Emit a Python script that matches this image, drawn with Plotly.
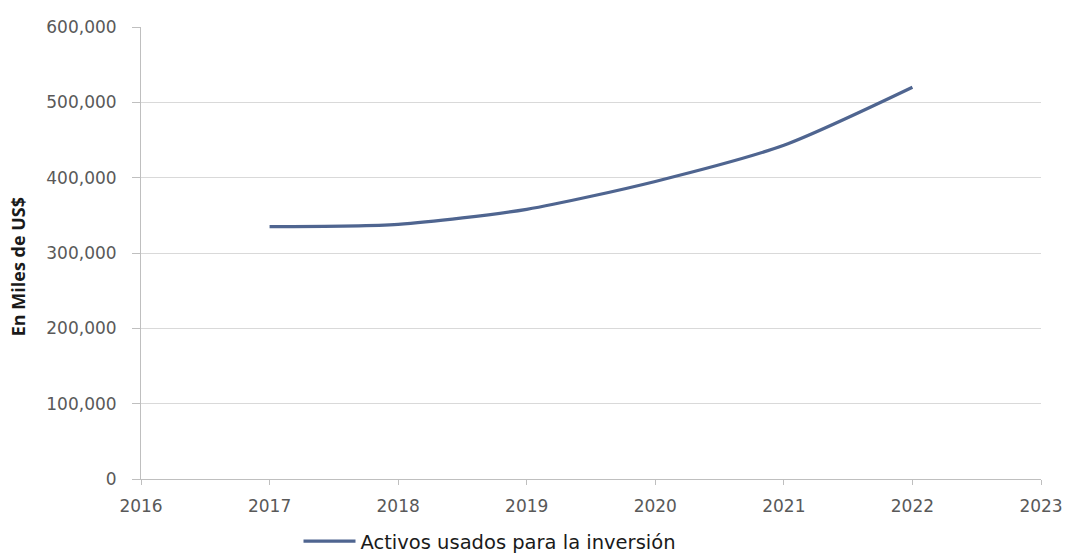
import plotly.graph_objects as go

years = [2017, 2018, 2019, 2020, 2021, 2022]
activos = [335000, 338000, 358000, 395000, 443000, 520000]
series_name = "Activos usados para la inversión"
y_title = "En Miles de US$"
x_ticks = [2016, 2017, 2018, 2019, 2020, 2021, 2022, 2023]
y_ticks = [0, 100000, 200000, 300000, 400000, 500000, 600000]

fig = go.Figure()
fig.add_trace(go.Scatter(
    x=years, y=activos, mode="lines", name=series_name,
    line=dict(color="#4f6590", width=3.2, shape="spline", smoothing=0.7),
))

font_family = "DejaVu Sans, Open Sans, sans-serif"
fig.update_layout(
    width=1067, height=557,
    margin=dict(l=141, r=26, t=27, b=78, autoexpand=False),
    paper_bgcolor="white", plot_bgcolor="white",
    showlegend=True,
    legend=dict(orientation="h", x=0.175, xanchor="left", y=-0.138, yanchor="middle",
                font=dict(family=font_family, size=19.5, color="#1a1a1a"),
                itemwidth=52, bgcolor="rgba(0,0,0,0)"),
    font=dict(family=font_family, color="#595959", size=17),
    annotations=[dict(
        text="<b>" + y_title + "</b>", textangle=-90,
        xref="paper", yref="paper", x=-0.137, y=0.47,
        xanchor="center", yanchor="middle", showarrow=False,
        font=dict(family="Open Sans, sans-serif", size=18, color="#1a1a1a"),
    )],
)
fig.update_xaxes(
    range=[2016, 2023], tickvals=x_ticks, ticktext=[str(v) for v in x_ticks],
    showgrid=False, showline=True, linecolor="#bfbfbf", linewidth=1,
    ticks="outside", ticklen=5, tickcolor="#bfbfbf",
    ticklabelstandoff=7,
    tickfont=dict(family=font_family, size=17, color="#595959"),
    zeroline=False,
)
fig.update_yaxes(
    range=[0, 600000], tickvals=y_ticks, tickformat=",d",
    showgrid=True, gridcolor="#d9d9d9", gridwidth=1,
    showline=True, linecolor="#bfbfbf", linewidth=1,
    ticks="outside", ticklen=8, tickcolor="#bfbfbf",
    ticklabelstandoff=12,
    tickfont=dict(family=font_family, size=17, color="#595959"),
    zeroline=False,
)
fig.write_html("out.html")
